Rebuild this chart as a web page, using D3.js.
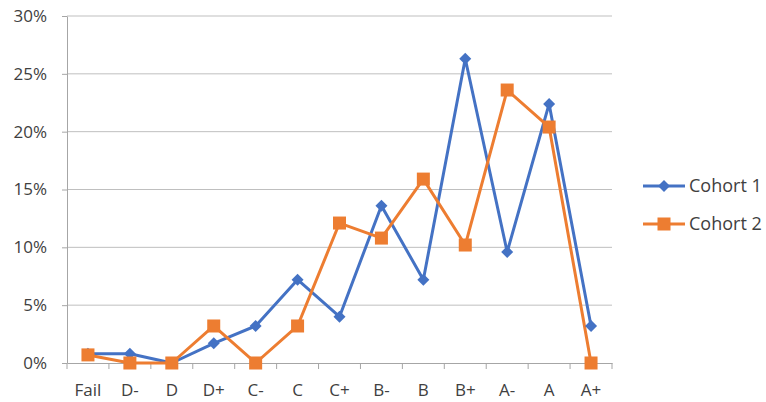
<!DOCTYPE html>
<html><head><meta charset="utf-8">
<script src="https://cdn.jsdelivr.net/npm/d3@7"></script>
<style>body{margin:0;background:#fff}svg{display:block}text{font-family:"Open Sans","Liberation Sans",sans-serif;fill:#404040}</style>
</head><body>
<svg id="c" width="766" height="402"></svg>
<script>
const categories = ["Fail","D-","D","D+","C-","C","C+","B-","B","B+","A-","A","A+"];
const cohort1 = [0.8,0.8,0.0,1.7,3.2,7.2,4.0,13.6,7.2,26.3,9.6,22.4,3.2];
const cohort2 = [0.7,0.0,0.0,3.2,0.0,3.2,12.1,10.8,15.9,10.2,23.6,20.4,0.0];
const yTicks = [0,5,10,15,20,25,30];
const seriesNames = ["Cohort 1","Cohort 2"];
const colors = ["#4472C4","#ED7D31"];

const svg = d3.select("#c");
const L = 67, R = 612, T = 16, B = 363;
const x = d3.scaleBand().domain(categories).range([L, R]);
const y = d3.scaleLinear().domain([0, 30]).range([B, T]);

// gridlines
svg.append("g").selectAll("line").data(yTicks.filter(d=>d>0)).join("line")
  .attr("x1", L).attr("x2", R).attr("y1", d=>y(d)).attr("y2", d=>y(d))
  .attr("stroke", "#bfbfbf").attr("stroke-width", 1);

// y axis
const ya = svg.append("g").attr("transform", `translate(${L},0)`)
  .call(d3.axisLeft(y).tickValues(yTicks).tickFormat(d=>d+"%").tickSize(5).tickSizeOuter(0).tickPadding(15));
ya.select(".domain").attr("stroke", "#a6a6a6");
ya.selectAll(".tick line").attr("stroke", "#a6a6a6");
ya.selectAll("text").style("font-size","17px").attr("fill","#404040");

// x axis
const xa = svg.append("g").attr("transform", `translate(0,${B})`)
  .call(d3.axisBottom(x).tickSize(0).tickPadding(21));
xa.select(".domain").attr("stroke", "#a6a6a6");
xa.selectAll("text").style("font-size","17px").attr("fill","#404040");
// boundary tick marks
svg.append("g").selectAll("line").data(categories.map(c=>x(c)).concat([R])).join("line")
  .attr("x1", d=>d).attr("x2", d=>d).attr("y1", B).attr("y2", B+6)
  .attr("stroke", "#a6a6a6");

const series = [cohort1, cohort2];
const line = d3.line().x((d,i)=>x(categories[i]) + x.bandwidth()/2).y(d=>y(d));
series.forEach((s, k) => {
  svg.append("path").datum(s).attr("d", line).attr("fill","none")
    .attr("stroke", colors[k]).attr("stroke-width", 3).attr("stroke-linejoin","round");
});
// markers
const diamondPath = d3.symbol().type(d3.symbolSquare).size(72)();
svg.append("g").selectAll("path").data(cohort1).join("path")
  .attr("transform", (d,i)=>`translate(${x(categories[i])+x.bandwidth()/2},${y(d)}) rotate(45)`)
  .attr("d", diamondPath).attr("fill", colors[0]);
svg.append("g").selectAll("rect").data(cohort2).join("rect")
  .attr("x", (d,i)=>x(categories[i])+x.bandwidth()/2-6.5).attr("y", d=>y(d)-6.5)
  .attr("width", 13).attr("height", 13).attr("fill", colors[1]);

// legend
const lg = svg.append("g");
seriesNames.forEach((n, k) => {
  const ly = 186 + k*38;
  lg.append("line").attr("x1", 643).attr("x2", 685).attr("y1", ly).attr("y2", ly)
    .attr("stroke", colors[k]).attr("stroke-width", 3);
  if (k === 0) lg.append("path").attr("transform", `translate(664,${ly}) rotate(45)`)
    .attr("d", diamondPath).attr("fill", colors[0]);
  else lg.append("rect").attr("x", 657.5).attr("y", ly-6.5).attr("width", 13).attr("height", 13).attr("fill", colors[1]);
  lg.append("text").attr("x", 689).attr("y", ly).attr("dy","0.36em").style("font-size","18px").text(n);
});
</script>
</body></html>
